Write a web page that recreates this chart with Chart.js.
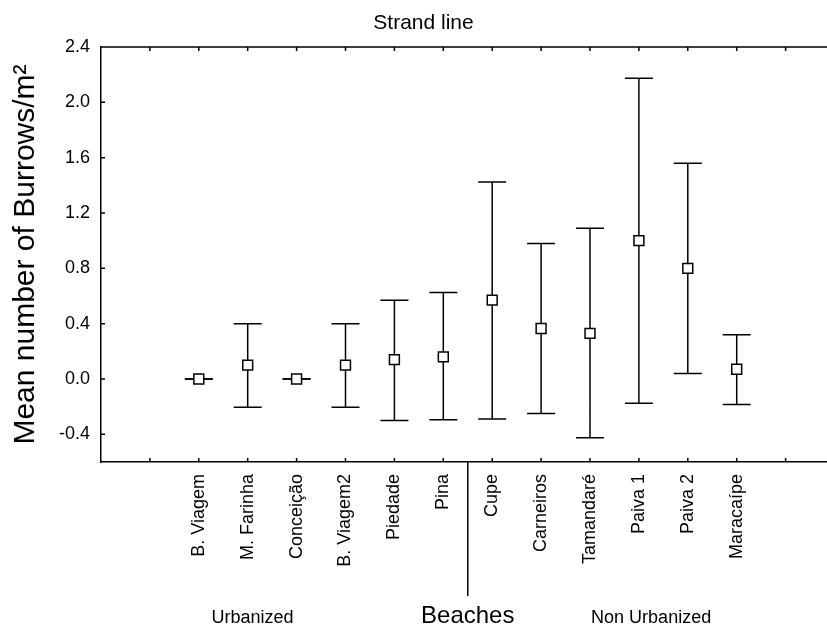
<!DOCTYPE html>
<html>
<head>
<meta charset="utf-8">
<script src="https://cdn.jsdelivr.net/npm/chart.js@4"></script>
<style>
  html, body { margin:0; padding:0; background:#fff; overflow:hidden; }
  #wrap { width:850px; height:628px; }
</style>
</head>
<body>
<div id="wrap"><canvas id="c" width="850" height="628"></canvas></div>
<script>
// Data
const beaches = ["B. Viagem","M. Farinha","Conceição","B. Viagem2","Piedade","Pina","Cupe","Carneiros","Tamandaré","Paiva 1","Paiva 2","Maracaípe"];
const means = [0, 0.10, 0, 0.10, 0.14, 0.16, 0.57, 0.365, 0.33, 1.00, 0.80, 0.07];
const upper = [0, 0.40, 0, 0.40, 0.57, 0.625, 1.425, 0.98, 1.09, 2.175, 1.56, 0.32];
const lower = [0, -0.205, 0, -0.205, -0.30, -0.295, -0.29, -0.25, -0.425, -0.175, 0.04, -0.185];
const yTicks = [-0.4, 0.0, 0.4, 0.8, 1.2, 1.6, 2.0, 2.4];
const groups = [{ name:"Urbanized", at:3.1 }, { name:"Non Urbanized", at:11.25 }];
const groupSplit = 7.5;   // between Pina and Cupe
const firstSlot = 2;      // first beach sits on the 3rd tick

const FONT = "'Liberation Sans', Arial, Helvetica, sans-serif";
Chart.defaults.font.family = FONT;
Chart.defaults.color = "#000";

const pts = (vals) => vals.map((v,i) => ({ x:i+firstSlot, y:v }));
const whiskers = [];
beaches.forEach((b,i) => {
  const xv = i + firstSlot;
  whiskers.push({x:xv, y:lower[i]}, {x:xv, y:upper[i]}, {x:xv, y:null});
});

// frame on top, inward ticks, group split + labels
const framePlugin = {
  id:"frame",
  afterDraw(chart){
    const { ctx, chartArea:a, scales:{x, y} } = chart;
    const tl = 4;
    ctx.save();
    ctx.strokeStyle = "#000"; ctx.lineWidth = 1.5;
    ctx.beginPath();
    ctx.moveTo(a.left, a.top); ctx.lineTo(a.right, a.top);
    x.ticks.forEach(t => {
      const px = x.getPixelForValue(t.value);
      if (px <= a.left + 1 || px >= a.right - 1) return;
      ctx.moveTo(px, a.top); ctx.lineTo(px, a.top + tl);
      ctx.moveTo(px, a.bottom); ctx.lineTo(px, a.bottom - tl);
    });
    y.ticks.forEach(t => {
      const py = y.getPixelForValue(t.value);
      if (py <= a.top + 1 || py >= a.bottom - 1) return;
      ctx.moveTo(a.left, py); ctx.lineTo(a.left + tl, py);
    });
    const sx = x.getPixelForValue(groupSplit);
    ctx.moveTo(sx, a.bottom); ctx.lineTo(sx, 596);
    ctx.stroke();
    ctx.fillStyle = "#000";
    ctx.font = "18px " + FONT;
    ctx.textAlign = "center"; ctx.textBaseline = "alphabetic";
    groups.forEach(g => ctx.fillText(g.name, x.getPixelForValue(g.at), 623));
    ctx.restore();
  }
};

new Chart(document.getElementById("c"), {
  type:"scatter",
  data:{
    datasets:[
      { label:"whisker", data:whiskers, showLine:true, spanGaps:false, borderColor:"#000", borderWidth:1.5, pointRadius:0, order:2 },
      { label:"caps", data:[...pts(upper), ...pts(lower)], pointStyle:"line", pointRadius:14, pointBorderColor:"#000", pointBorderWidth:1.5, order:1 },
      { label:"mean", data:pts(means), pointStyle:"rect", pointRadius:7, pointBackgroundColor:"#fff", pointBorderColor:"#000", pointBorderWidth:1.5, order:0 }
    ]
  },
  options:{
    responsive:false,
    animation:false,
    events:[],
    layout:{ padding:{ left:11, right:14, top:0, bottom:0 } },
    plugins:{
      legend:{ display:false },
      tooltip:{ enabled:false },
      title:{ display:true, text:"Strand line", font:{ size:21, weight:"normal" }, color:"#000", padding:{ top:10.5, bottom:11.3 } }
    },
    scales:{
      x:{
        type:"linear", min:0, max:15,
        grid:{ display:false, drawTicks:false },
        border:{ display:true, color:"#000", width:1.5 },
        ticks:{ stepSize:1, autoSkip:false, minRotation:90, maxRotation:90, padding:12, font:{ size:18 },
          callback:(v) => beaches[v - firstSlot] || "" },
        title:{ display:true, text:"Beaches", font:{ size:24, lineHeight:1 }, padding:{ top:0, bottom:0 } },
        afterFit:(s) => { s.height = 166; s.paddingLeft = 0; s.paddingRight = 0; }
      },
      y:{
        min:-0.6, max:2.4,
        grid:{ display:false, drawTicks:false },
        border:{ display:true, color:"#000", width:1.5 },
        afterBuildTicks:(s) => { s.ticks = [-0.6, ...yTicks].map(v => ({ value:v })); },
        ticks:{ padding:11, font:{ size:18 },
          callback:(v) => yTicks.some(t => Math.abs(t - v) < 1e-6) ? v.toFixed(1) : "" },
        title:{ display:true, text:"Mean number of Burrows/m²", font:{ size:30, lineHeight:1 }, padding:{ top:0, bottom:0 } },
        afterFit:(s) => { s.width = 90; s.paddingTop = 0; s.paddingBottom = 0; }
      }
    }
  },
  plugins:[framePlugin]
});
</script>
</body>
</html>
